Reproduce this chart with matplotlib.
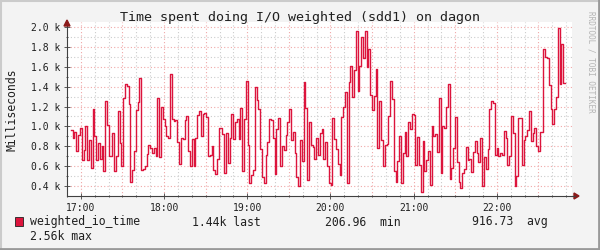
import numpy as np
import matplotlib.pyplot as plt
from matplotlib.patches import Rectangle, Polygon
from matplotlib.lines import Line2D

# weighted io time, ms (~1.3 min per sample)
values = [
    960, 880, 940, 750, 910, 980, 660, 760, 1000, 660, 860, 580, 1180, 900, 660, 830, 670, 800, 550, 1260,
    1010, 700, 700, 930, 550, 700, 1150, 830, 600, 1290, 1430, 1410, 1230, 440, 560, 750, 1160, 1250, 1490, 560,
    570, 600, 720, 810, 780, 730, 780, 700, 1290, 690, 1200, 1070, 1000, 900, 880,
    1530, 1070, 1050, 1060, 840, 620, 880, 870, 1060, 1100, 750, 600, 870, 600, 880, 1110, 1150, 900, 1120, 1130,
    1090, 700, 710, 800, 560, 520, 670, 980, 980, 920, 530, 930, 630, 880, 1120, 870, 1040, 1070, 870, 1190,
    550, 1070, 1460, 810, 430, 510, 560, 1400, 1270, 1170, 770, 490, 430, 710,
    840, 1070, 1060, 880, 520, 970, 1080, 600, 800, 760, 910, 1040, 1170, 860, 940, 730, 490, 400, 860, 650,
    1450, 1190, 460, 1040, 810, 790, 670, 880, 710, 930, 970, 670, 840, 600, 430, 410, 1080, 870, 770, 620,
    510, 1090, 1200, 1350, 430, 1450, 1610, 1300, 1570, 1960, 1360, 1610, 1900, 1690, 1960, 1600,
    1780, 1320, 1160, 1310, 1580, 780, 1260, 860, 600, 810, 820, 1100, 1460, 1280, 550, 440, 650, 900, 430, 730,
    940, 700, 1040, 970, 1120, 1110, 610, 890, 610, 340, 850, 550, 660, 750, 410, 1000, 900, 920, 740, 1290,
    530, 1000, 980, 1200, 1430, 470, 580, 780, 1090, 640, 440, 380, 530, 570, 790, 660,
    670, 540, 740, 850, 730, 640, 880, 400, 690, 570, 770, 1180, 1260, 1240, 710, 780, 700, 730, 710, 950,
    880, 610, 700, 1100, 930, 400, 500, 1080, 1080, 610, 860, 900, 960, 1150, 850, 930, 980, 800, 750, 940,
    940, 1780, 1700, 1690, 1420, 1180, 1020, 1170, 1300, 1990, 1430, 1830, 1440,
]
t_start = 16 + 52.8 / 60
t_end = 22 + 49.2 / 60
hour_labels = ["17:00", "18:00", "19:00", "20:00", "21:00", "22:00"]
legend_name = "weighted_io_time"
stat_last = "1.44k last"
stat_min = "206.96  min"
stat_avg = "916.73  avg"
stat_max = "2.56k max"

W, H = 600, 250
back = "#F3F3F3"
line_col = "#DC143C"
mono = "DejaVu Sans Mono"

fig = plt.figure(figsize=(6, 2.5), dpi=100, facecolor=back)

L, R, T, B = 67, 572, 22, 196
ax = fig.add_axes([L / W, 1 - B / H, (R - L) / W, (B - T) / H])
ax.set_facecolor("white")

v = np.array(values) / 1000.0
t = np.linspace(t_start, t_end, len(v) + 1)
ax.step(t, np.append(v, v[-1]), where="post", color=line_col, lw=1.0)

ax.set_xlim(t_start, 22 + 54.2 / 60)
ax.set_ylim(0.3, 2.05)

# grid
for yy in np.arange(0.4, 2.01, 0.1):
    major = round(yy * 10) % 2 == 0
    ax.axhline(yy, color="#F0A8A8" if major else "#CCCCCC", lw=0.8, ls=(0, (1, 2)), zorder=0)
for m in range(0, 6 * 6 + 1):
    xx = 17 - 10 / 60 * 0 + m * 10 / 60
    if xx > 22 + 54 / 60:
        break
    major = m % 3 == 0
    ax.axvline(xx, color="#F0A8A8" if major else "#CCCCCC", lw=0.8, ls=(0, (1, 2)), zorder=0)

ax.set_xticks(np.arange(17, 23))
ax.set_xticklabels(hour_labels, family=mono, fontsize=7, color="#202020")
ax.set_xticks(np.arange(17 - 1 / 6, 22.9, 1 / 6), minor=True)
yt = np.arange(0.4, 2.01, 0.2)
ax.set_yticks(yt)
ax.set_yticklabels(["%.1f k" % y for y in yt], family=mono, fontsize=7, color="#202020")
ax.set_yticks(np.arange(0.4, 2.01, 0.1), minor=True)
ax.tick_params(which="both", direction="inout", color="#404040", width=0.6)
ax.tick_params(which="major", length=4, pad=3)
ax.tick_params(which="minor", length=2)
for s in ("top", "right"):
    ax.spines[s].set_visible(False)
for s in ("left", "bottom"):
    ax.spines[s].set_color("#404040")
    ax.spines[s].set_linewidth(0.8)

# axis arrows
fx = lambda x: x / W
fy = lambda y: 1 - y / H
fig.add_artist(Line2D([fx(R), fx(575)], [fy(B), fy(B)], color="#404040", lw=0.8))
fig.add_artist(Polygon([[fx(574), fy(193)], [fx(579), fy(196)], [fx(574), fy(199)]],
                       closed=True, color="#8B1A1A", transform=fig.transFigure))
fig.add_artist(Polygon([[fx(64), fy(26)], [fx(67), fy(20)], [fx(70), fy(26)]],
                       closed=True, color="#8B1A1A", transform=fig.transFigure))

# title and labels
fig.text(0.5, fy(18), "Time spent doing I/O weighted (sdd1) on dagon", ha="center", va="center",
         family=mono, fontsize=9.6, color="#202020")
fig.text(fx(12), fy(110), "Milliseconds", rotation=90, ha="center", va="center",
         family=mono, fontsize=8.3, color="#202020")
fig.text(fx(591), fy(62), "RRDTOOL / TOBI OETIKER", rotation=270, ha="center", va="center",
         family=mono, fontsize=5.5, color="#B4B4B4")

# legend
fig.add_artist(Rectangle((fx(15), fy(226)), 8 / W, 9 / H, transform=fig.transFigure,
                         facecolor=line_col, edgecolor="#202020", lw=0.6))
for x, y, s in [(30, 222, legend_name), (192, 222, stat_last), (325, 222, stat_min),
                (472, 222, stat_avg), (30, 236, stat_max)]:
    fig.text(fx(x), fy(y), s, ha="left", va="center", family=mono, fontsize=8.3, color="#202020")

# frame shading
fig.add_artist(Line2D([0, 1], [fy(0.5), fy(0.5)], color="#CBCBCB", lw=1.5))
fig.add_artist(Line2D([fx(0.5), fx(0.5)], [0, 1], color="#CBCBCB", lw=1.5))
fig.add_artist(Line2D([0, 1], [fy(248.5), fy(248.5)], color="#999999", lw=2))
fig.add_artist(Line2D([fx(598.5), fx(598.5)], [0, 1], color="#999999", lw=2))

fig.savefig("out.png", dpi=100, facecolor=back)
